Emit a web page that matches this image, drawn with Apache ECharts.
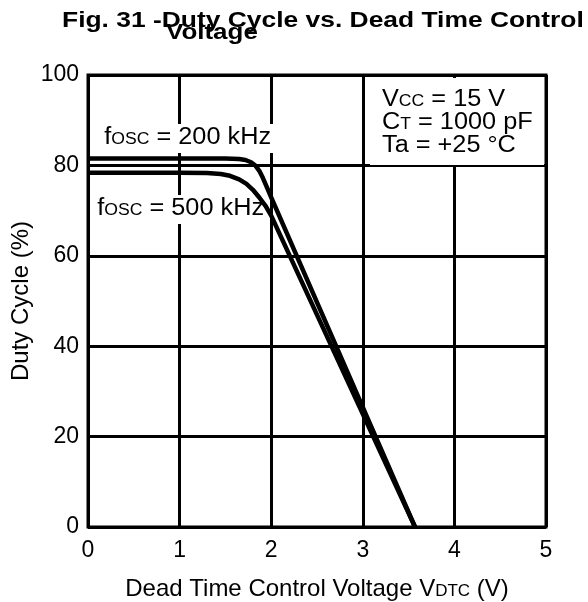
<!DOCTYPE html>
<html>
<head>
<meta charset="utf-8">
<script src="https://cdn.jsdelivr.net/npm/echarts@6/dist/echarts.min.js"></script>
<style>
  html, body { margin: 0; padding: 0; background: #fff; }
  #chart { width: 588px; height: 602px; }
</style>
</head>
<body>
<div id="chart"></div>
<script>
// Duty cycle (%) against dead time control voltage (V)
const xTicks = [0, 1, 2, 3, 4, 5];
const yTicks = [0, 20, 40, 60, 80, 100];

const vdtc200 = [0, 0.5, 1.0, 1.5, 1.65, 1.72, 1.78, 1.83, 1.87, 1.91, 1.95, 2.0, 3.57];
const duty200 = [81.5, 81.5, 81.5, 81.5, 81.4, 81.2, 80.7, 79.9, 78.8, 77.2, 75.3, 72.9, 0];

const vdtc500 = [0, 0.5, 1.0, 1.3, 1.45, 1.55, 1.65, 1.73, 1.8, 1.87, 1.94, 2.0, 3.57];
const duty500 = [78.4, 78.4, 78.4, 78.3, 78.1, 77.7, 76.9, 75.9, 74.6, 72.9, 71.0, 68.9, 0];

const FONT = '"Liberation Sans", Arial, sans-serif';
const FS = 23;
const WIDEN = 1.1; // horizontal stretch of the annotation lettering

function pairs(xs, ys) { return xs.map((x, i) => [x, ys[i]]); }

// n: normal text, s: small capitals sitting on the same baseline
const rich = {
  n: { fontFamily: FONT, fontSize: FS, color: '#000', lineHeight: 23 },
  s: { fontFamily: FONT, fontSize: 16, color: '#000', lineHeight: 18, padding: [5, 0, 0, 0] }
};
const richName = {
  n: { fontFamily: FONT, fontSize: 24, color: '#000', lineHeight: 24 },
  s: { fontFamily: FONT, fontSize: 17, color: '#000', lineHeight: 19, padding: [5, 0, 0, 0] }
};

const chart = echarts.init(document.getElementById('chart'), null, { renderer: 'canvas' });

chart.setOption({
  animation: false,
  backgroundColor: '#fff',
  grid: {
    left: 88, right: 42, top: 75, bottom: 75,
    containLabel: false, outerBoundsMode: 'none',
    show: true, borderColor: '#000', borderWidth: 3, backgroundColor: 'transparent'
  },
  xAxis: {
    type: 'value', min: xTicks[0], max: xTicks[xTicks.length - 1], interval: 1,
    axisLine: { show: false }, axisTick: { show: false },
    splitLine: { show: true, lineStyle: { color: '#000', width: 3 } },
    axisLabel: { fontFamily: FONT, fontSize: FS, color: '#000', margin: 12 },
    name: '{n|Dead Time Control Voltage V}{s|DTC}{n| (V)}',
    nameLocation: 'middle', nameGap: 50,
    nameTextStyle: { rich: richName }
  },
  yAxis: {
    type: 'value', min: yTicks[0], max: yTicks[yTicks.length - 1], interval: 20,
    axisLine: { show: false }, axisTick: { show: false },
    splitLine: { show: true, lineStyle: { color: '#000', width: 3 } },
    axisLabel: { fontFamily: FONT, fontSize: FS, color: '#000', margin: 9 },
    name: 'Duty Cycle (%)', nameLocation: 'middle', nameGap: 55, nameMoveOverlap: false,
    nameTextStyle: { fontFamily: FONT, fontSize: 24, color: '#000' }
  },
  graphic: [
    { type: 'text', x: 62, y: 10, scaleX: 1.2, z: 5,
      style: { text: 'Fig. 31 -Duty Cycle vs. Dead Time Control',
               fontFamily: FONT, fontSize: 22, fontWeight: 'bold', fill: '#000' } },
    { type: 'text', x: 166, y: 22, scaleX: 1.18, z: 5,
      style: { text: 'Voltage',
               fontFamily: FONT, fontSize: 22, fontWeight: 'bold', fill: '#000' } },
    // condition box
    { type: 'rect', shape: { x: 370, y: 78, width: 174, height: 87 }, z: 1,
      style: { fill: '#fff' } },
    { type: 'text', x: 382, y: 88, scaleX: WIDEN, z: 5,
      style: { text: '{n|V}{s|CC}{n| = 15 V}\n{n|C}{s|T}{n| = 1000 pF}\n{n|Ta = +25 °C}', rich: rich } },
    // curve labels
    { type: 'text', x: 101, y: 124, scaleX: WIDEN, z: 1,
      style: { text: '{n|f}{s|OSC}{n| = 200 kHz}', rich: rich, backgroundColor: '#fff', padding: [2, 3, 4, 3] } },
    { type: 'text', x: 94, y: 195, scaleX: WIDEN, z: 1,
      style: { text: '{n|f}{s|OSC}{n| = 500 kHz}', rich: rich, backgroundColor: '#fff', padding: [2, 3, 4, 3] } }
  ],
  series: [
    { name: 'fOSC = 200 kHz', type: 'line', data: pairs(vdtc200, duty200), showSymbol: false,
      smooth: false, z: 3, lineStyle: { color: '#000', width: 4.5, join: 'round' } },
    { name: 'fOSC = 500 kHz', type: 'line', data: pairs(vdtc500, duty500), showSymbol: false,
      smooth: false, z: 3, lineStyle: { color: '#000', width: 4.5, join: 'round' } }
  ]
});
</script>
</body>
</html>
